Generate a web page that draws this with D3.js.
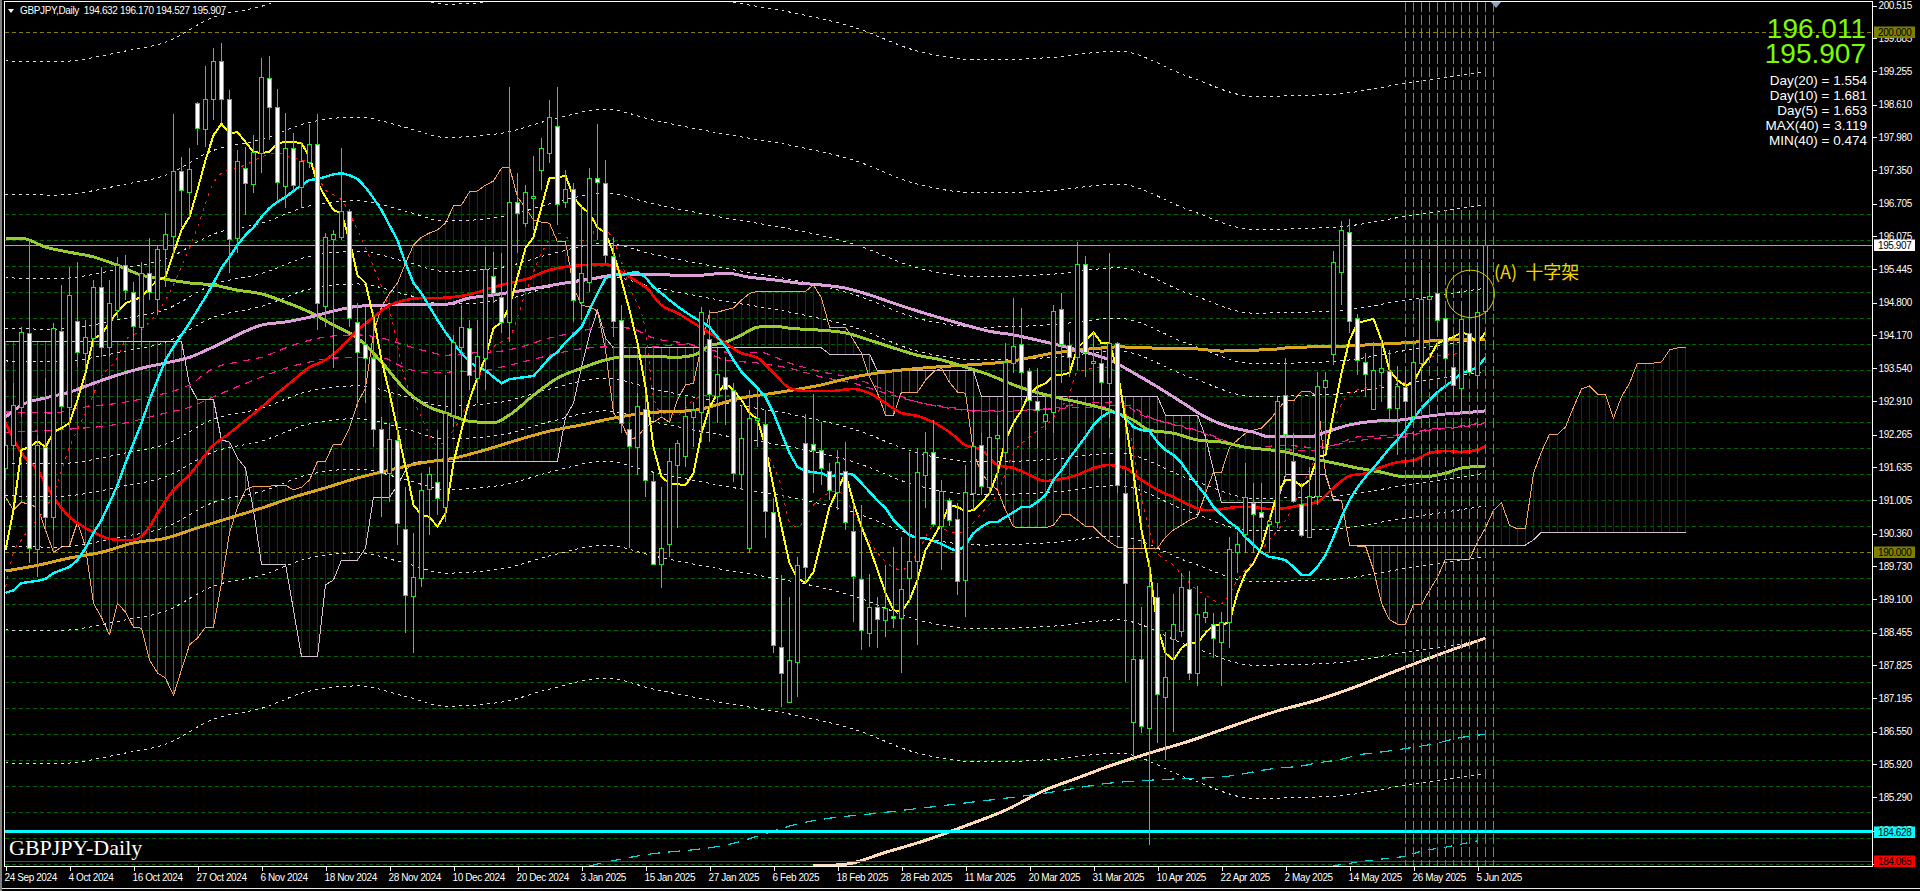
<!DOCTYPE html>
<html><head><meta charset="utf-8">
<script src="https://cdn.jsdelivr.net/npm/d3@7/dist/d3.min.js"></script>
<style>
html,body{margin:0;padding:0;background:#000;overflow:hidden}
svg{display:block}
text{font-family:"Liberation Sans",Arial,sans-serif}
</style></head><body>
<svg id="c" width="1920" height="891"></svg>
<script>
// ---- candles -------------------------------------------------------------
const opens=[191.62,192.06,192.79,194.22,190.06,192.02,190.68,194.25,192.79,194.45,193.83,194.12,195.10,193.95,194.66,195.52,195.00,194.33,195.37,194.87,195.83,196.08,197.33,196.93,198.64,198.14,198.72,199.45,198.72,196.04,197.39,197.08,197.68,199.12,198.56,197.04,197.77,197.02,197.50,197.85,194.73,196.02,196.06,196.56,194.43,194.00,193.74,192.37,191.52,192.16,190.45,189.16,189.50,191.22,191.35,190.87,192.64,193.95,194.31,193.35,193.74,195.31,194.91,194.43,196.74,196.33,196.81,197.35,197.68,198.20,196.74,196.99,194.81,195.20,197.20,197.10,195.70,194.47,192.37,192.02,192.75,191.37,189.77,190.16,191.68,191.85,192.60,192.70,194.10,193.00,193.37,193.12,191.50,190.08,192.54,192.47,190.77,188.18,187.12,187.89,192.10,192.08,191.97,191.56,191.16,191.56,190.41,189.49,188.45,188.95,188.70,188.77,188.74,189.50,189.83,191.49,191.93,190.50,191.00,190.64,189.47,191.14,192.06,191.25,192.20,191.93,193.64,194.00,193.49,192.91,192.52,192.70,194.68,193.98,193.75,195.54,193.64,193.64,193.25,194.02,191.14,186.74,187.95,186.62,189.14,187.22,188.33,188.49,189.29,187.68,188.75,188.62,188.27,188.66,190.00,190.35,190.95,190.77,190.54,190.58,193.02,191.75,190.93,190.29,191.08,193.18,193.81,195.39,196.16,194.50,193.66,192.75,193.47,193.49,192.77,193.18,192.62,193.64,194.87,194.98,194.50,193.56,193.16,194.22,193.41,194.632];
const highs=[193.31,193.25,194.33,196.00,192.25,193.35,194.41,195.14,195.49,195.58,194.47,195.24,195.49,195.24,195.68,195.72,195.20,195.58,196.04,195.91,196.52,198.43,197.60,197.77,198.66,199.35,199.70,199.79,198.89,197.74,197.79,198.02,199.50,199.54,198.91,198.45,198.06,197.89,198.24,198.43,196.14,196.20,197.77,196.60,194.79,194.72,194.62,192.60,192.49,192.49,191.25,190.37,191.52,191.64,192.35,193.41,194.18,194.75,194.47,194.47,195.87,195.77,195.75,198.95,197.29,197.06,197.62,197.97,198.70,198.95,197.35,197.10,196.64,197.39,198.24,197.54,196.06,194.75,192.49,193.06,193.06,191.52,191.25,192.00,192.16,192.99,192.89,194.72,194.66,193.93,193.75,193.25,192.83,193.12,193.12,192.73,191.04,189.56,189.14,189.91,192.66,193.04,192.50,191.72,191.97,192.12,190.93,190.91,189.58,189.14,189.75,190.10,190.29,191.93,192.00,192.31,192.54,191.39,191.04,190.95,191.68,192.99,192.29,192.54,192.64,194.02,194.89,194.70,193.54,193.54,193.02,194.75,194.98,194.23,195.97,195.70,194.23,193.95,195.75,194.04,191.58,190.14,188.95,189.85,189.41,188.47,189.20,189.60,189.64,189.35,189.12,188.83,188.85,190.29,190.39,191.72,191.33,191.33,190.72,192.99,193.74,192.29,191.33,191.64,193.47,193.47,195.79,196.37,196.41,194.58,193.83,194.04,194.14,193.89,193.58,193.50,193.95,195.62,195.37,196.31,194.66,193.89,194.79,195.24,195.47,196.170];
const lows=[191.39,191.77,192.60,189.79,189.52,190.39,190.43,192.45,192.41,193.56,193.50,193.95,193.75,193.75,194.50,194.85,193.89,193.95,194.85,194.56,195.10,195.68,196.25,196.45,197.83,197.79,198.31,198.25,195.37,195.75,196.49,196.91,197.29,197.93,196.74,196.62,196.91,196.62,197.39,194.27,194.33,193.54,196.00,194.33,192.79,192.87,192.02,190.68,190.97,190.14,188.45,188.06,189.33,190.33,190.72,190.58,192.41,192.60,193.12,192.87,193.12,194.79,194.22,194.04,195.75,196.25,196.20,196.97,197.49,196.29,196.62,194.43,194.47,195.00,196.00,195.56,194.14,192.29,190.08,191.49,191.06,189.75,189.31,189.91,190.47,191.64,192.02,192.12,192.12,192.49,192.45,191.35,191.20,189.99,192.02,190.27,188.06,187.02,187.10,187.22,189.41,191.14,191.29,191.00,190.81,190.43,188.66,188.12,188.18,188.16,188.37,188.54,187.68,189.02,188.22,190.85,190.48,189.66,190.50,189.18,188.75,190.81,191.10,191.10,191.39,191.77,193.45,192.93,192.02,192.00,192.35,192.29,193.25,193.37,193.50,193.37,192.93,192.54,192.20,191.14,187.50,186.04,186.52,184.37,186.33,186.00,186.54,188.37,187.54,187.43,188.64,187.97,187.43,188.16,189.60,189.99,189.99,190.20,189.99,190.47,191.47,190.95,190.29,190.27,190.91,191.93,193.60,194.75,194.22,193.41,192.99,192.73,192.89,192.54,191.87,192.02,192.49,193.02,193.98,194.23,193.35,192.97,192.70,193.45,193.22,194.527];
const closes=[192.06,192.83,194.23,190.08,192.06,190.68,194.31,192.81,194.95,193.85,194.14,195.10,193.95,194.79,195.52,195.04,194.35,195.37,195.00,195.83,196.12,197.33,196.97,197.37,198.16,198.72,199.45,198.72,196.02,197.52,197.10,197.70,199.14,198.56,197.12,197.77,197.06,197.52,197.85,194.79,196.06,196.12,196.56,194.50,193.85,193.74,192.37,191.52,192.18,190.56,189.18,189.52,191.20,191.50,191.04,192.68,194.04,194.33,193.41,193.77,195.45,194.98,194.43,196.74,196.52,196.93,196.85,197.77,198.37,196.70,196.99,194.85,195.37,197.20,197.12,195.72,194.45,192.49,192.04,192.81,191.39,189.77,190.08,191.75,192.10,192.62,192.73,194.62,193.04,193.43,193.14,191.52,192.20,192.58,192.58,190.79,188.22,187.68,187.93,189.75,189.72,191.97,191.62,191.20,191.73,190.58,189.54,188.50,188.95,188.72,188.93,188.74,189.29,189.83,191.54,191.93,190.54,191.18,190.62,189.45,191.16,192.04,191.27,192.22,192.25,193.66,193.97,193.47,192.93,192.73,192.66,194.64,194.00,193.74,195.54,193.85,193.68,193.27,194.02,191.29,189.41,187.95,186.66,189.35,187.27,187.60,188.62,189.33,187.68,188.81,188.85,188.35,188.66,190.06,190.16,191.06,190.74,190.68,190.60,192.91,192.27,190.99,190.33,191.08,193.20,193.31,195.58,196.20,194.45,193.70,193.43,193.50,193.54,192.77,193.20,192.91,193.66,194.87,194.93,194.47,193.74,193.22,194.48,193.47,194.62,195.907];

// ---- indicators, one value per bar ---------------------------------------
const yellowFast=[190.04,190.81,191.97,192.02,192.14,192.02,192.31,192.39,192.49,192.93,193.45,194.12,194.18,194.43,194.62,194.79,194.85,194.91,195.08,195.24,195.29,195.75,196.20,196.45,196.97,197.54,198.02,198.24,198.06,198.08,197.89,197.70,197.68,197.70,197.87,197.89,197.89,197.87,197.60,197.10,196.83,196.58,196.52,196.00,195.33,195.18,194.52,193.70,193.06,192.35,191.64,190.91,190.72,190.68,190.49,190.75,191.72,192.35,192.93,193.37,193.75,194.31,194.43,194.72,195.29,195.85,196.06,196.64,197.20,197.20,197.25,196.83,196.64,196.52,196.25,196.14,195.75,195.24,194.66,194.02,193.18,192.02,191.45,191.33,191.31,191.29,191.52,192.29,192.79,193.06,193.25,193.12,192.93,192.68,192.56,192.02,191.25,190.49,189.79,189.50,189.41,189.62,190.24,190.87,191.20,191.52,190.95,190.49,190.10,189.66,189.22,188.89,188.85,189.08,189.47,190.04,190.29,190.56,190.91,190.87,190.79,190.81,190.95,191.14,191.52,192.16,192.49,192.73,193.06,193.18,193.25,193.41,193.41,193.45,193.93,194.08,194.23,194.02,194.02,193.50,192.54,191.52,190.43,189.72,188.56,188.06,187.93,188.16,188.27,188.25,188.45,188.60,188.60,188.66,189.22,189.60,189.79,190.10,190.62,191.14,191.39,191.39,191.27,191.39,191.83,191.87,192.68,193.45,194.08,194.41,194.45,194.49,194.08,193.50,193.31,193.20,193.27,193.56,193.75,194.02,194.08,194.14,194.23,194.18,194.02,194.23];
const cyanMid=[189.22,189.27,189.41,189.43,189.45,189.49,189.60,189.66,189.72,189.85,190.08,190.37,190.62,190.95,191.29,191.72,192.10,192.49,192.93,193.31,193.70,193.95,194.18,194.41,194.66,194.91,195.18,195.47,195.68,195.91,196.10,196.25,196.45,196.62,196.74,196.83,196.95,197.06,197.16,197.18,197.22,197.27,197.29,197.25,197.18,197.02,196.81,196.58,196.29,196.00,195.56,195.18,194.98,194.72,194.47,194.23,194.02,193.83,193.66,193.56,193.50,193.37,193.25,193.33,193.35,193.37,193.39,193.56,193.74,193.85,194.04,194.18,194.33,194.66,194.98,195.27,195.33,195.33,195.37,195.39,195.29,195.10,194.98,194.85,194.73,194.62,194.52,194.43,194.33,194.14,193.95,193.70,193.47,193.31,193.16,192.99,192.68,192.29,191.91,191.64,191.56,191.54,191.52,191.45,191.49,191.52,191.49,191.33,191.16,191.00,190.85,190.62,190.47,190.33,190.27,190.27,190.22,190.16,190.08,190.02,190.14,190.37,190.49,190.58,190.58,190.68,190.77,190.87,190.87,190.97,191.10,191.39,191.58,191.81,192.02,192.22,192.45,192.60,192.70,192.68,192.58,192.41,192.35,192.33,192.12,191.97,191.87,191.72,191.49,191.29,191.10,190.87,190.72,190.58,190.47,190.29,190.14,190.00,189.91,189.89,189.85,189.72,189.56,189.56,189.72,189.95,190.29,190.68,191.00,191.25,191.45,191.62,191.81,192.00,192.16,192.35,192.58,192.77,192.93,193.08,193.20,193.31,193.45,193.49,193.56,193.75];
const spanA=[191.06,190.81,190.97,190.91,190.87,190.43,190.00,190.10,190.12,190.58,190.10,189.02,188.75,188.41,189.02,188.85,188.56,188.54,187.93,187.68,187.58,187.25,187.74,188.22,188.35,188.56,188.56,189.41,190.37,190.87,191.20,191.27,191.27,191.27,191.29,191.29,191.20,191.25,191.39,191.75,191.75,192.08,192.08,192.39,192.87,193.16,194.22,194.72,194.98,195.18,195.56,195.91,196.06,196.14,196.20,196.33,196.66,196.68,196.93,196.95,197.06,197.14,197.39,197.41,196.83,196.62,196.39,196.35,196.33,195.97,195.97,195.10,194.75,194.72,194.64,193.89,192.68,192.49,192.16,192.22,192.41,192.50,192.60,192.50,192.93,193.22,193.25,193.98,194.60,194.62,194.66,194.70,194.85,194.98,195.02,195.02,195.02,195.02,195.02,195.02,195.02,195.14,194.89,194.33,194.33,194.33,194.08,193.83,193.37,193.06,192.64,192.64,193.08,193.08,193.08,193.31,193.47,193.54,193.27,193.08,193.06,191.91,191.52,191.33,191.20,190.81,190.49,190.47,190.47,190.47,190.47,190.52,190.73,190.73,190.62,190.50,190.49,190.33,190.20,190.10,190.08,190.08,190.08,190.08,190.08,190.29,190.43,190.52,190.62,190.68,191.14,191.54,191.54,192.02,192.16,192.29,192.35,192.39,192.54,192.73,192.93,192.91,193.10,193.10,192.99,191.52,191.02,191.00,190.14,190.12,190.12,189.66,189.02,188.70,188.62,188.62,189.00,189.00,189.27,189.52,189.87,189.87,189.87,189.87,190.20,190.47,190.81,190.95,190.52,190.45,190.45,191.52,191.93,192.27,192.27,192.41,192.79,193.14,193.20,193.04,193.04,192.58,192.99,193.25,193.64,193.64,193.64,193.66,193.89,193.93,193.93];
const spanB=[194.06,194.06,194.06,194.06,194.06,194.06,194.06,194.06,194.06,194.06,194.06,194.06,194.06,194.06,194.06,194.06,194.06,194.06,194.06,194.06,194.06,194.06,194.06,193.22,192.93,192.93,192.93,192.16,192.12,191.81,191.62,190.81,189.77,189.77,189.77,189.77,188.89,188.00,188.00,188.00,189.37,189.47,189.85,189.85,189.85,190.08,191.06,191.06,191.06,191.29,191.58,191.72,191.75,191.75,191.75,191.75,191.75,191.75,191.75,191.75,191.75,191.75,191.75,191.75,191.75,191.75,191.75,191.75,191.75,191.75,192.60,192.87,193.56,194.18,194.66,194.12,193.93,193.93,193.93,193.93,193.93,193.93,193.93,193.93,193.93,193.93,193.93,193.93,193.93,193.93,193.93,193.93,193.93,193.93,193.93,193.93,193.93,193.93,193.93,193.93,193.93,193.93,193.93,193.81,193.81,193.81,193.81,193.81,193.81,193.49,193.49,193.49,193.49,193.49,193.49,193.49,193.49,193.49,193.49,193.49,193.49,193.49,192.99,192.99,192.99,192.99,192.99,192.99,192.99,192.99,192.99,192.99,192.99,192.99,192.99,192.99,192.99,192.99,192.99,192.99,192.99,192.99,192.99,192.99,192.99,192.64,192.64,192.64,192.64,192.64,192.22,191.58,190.95,190.95,190.95,190.95,190.95,190.95,190.95,190.95,191.49,191.49,191.49,191.49,191.49,191.49,191.00,191.00,190.14,190.14,190.14,190.14,190.14,190.14,190.14,190.14,190.14,190.14,190.14,190.14,190.14,190.14,190.14,190.14,190.14,190.14,190.14,190.14,190.14,190.14,190.14,190.24,190.39,190.39,190.39,190.39,190.39,190.39,190.39,190.39,190.39,190.39,190.39,190.39,190.39,190.39,190.39,190.39,190.39,190.39,190.39];

// ---- indicators read at selected bars ------------------------------------
const redBars=[0,2,4,6,8,10,12,14,16,18,19,21,23,26,28,30,32,34,36,38,40,42,44,46,48,50,52,54,57,59,61,63,65,68,70,72,75,77,79,80,82,84,86,88,90,92,94,96,98,100,103,106,108,110,112,114,116,118,120,122,124,126,128,130,132,134,136,138,140,142,144,146,148,150,152,154,156,158,160,162,164,166,168,170,172,174,176,178,180,182,184,185];
const redMA=[192.49,191.91,191.58,191.06,190.68,190.47,190.31,190.24,190.24,190.49,190.75,191.20,191.49,192.06,192.29,192.54,192.79,193.06,193.31,193.56,193.70,193.95,194.27,194.52,194.75,194.85,194.89,194.89,194.93,195.00,195.10,195.18,195.25,195.43,195.49,195.52,195.54,195.39,195.20,195.10,194.75,194.60,194.41,194.22,194.02,193.83,193.74,193.45,193.16,193.10,193.10,193.14,193.06,192.87,192.68,192.62,192.50,192.31,192.06,191.97,191.68,191.62,191.49,191.37,191.41,191.49,191.62,191.68,191.62,191.39,191.20,191.06,190.91,190.81,190.83,190.87,190.87,190.83,190.85,190.91,190.97,191.24,191.47,191.52,191.64,191.73,191.77,191.91,191.95,191.93,191.97,192.04];
const plumBars=[0,2,5,8,11,14,17,20,23,26,29,32,35,38,41,44,47,51,55,58,61,64,67,70,73,76,79,84,87,90,93,96,99,102,105,108,111,114,117,120,123,126,129,132,135,138,141,144,147,150,153,156,158,160,163,165,168,171,174,177,180,182,185];
const plumMA=[192.60,192.83,192.97,193.08,193.25,193.41,193.54,193.64,193.75,193.95,194.18,194.37,194.43,194.52,194.64,194.73,194.75,194.77,194.77,194.89,194.95,195.02,195.10,195.18,195.25,195.33,195.35,195.33,195.33,195.37,195.29,195.24,195.18,195.14,195.08,194.95,194.79,194.64,194.50,194.37,194.25,194.18,194.08,193.97,193.85,193.70,193.45,193.18,192.89,192.60,192.41,192.31,192.22,192.22,192.22,192.31,192.45,192.52,192.54,192.60,192.66,192.68,192.72];
const oliveBars=[0,2,5,8,11,14,17,20,23,26,29,32,35,38,41,44,47,50,53,55,58,61,63,66,69,72,75,78,80,84,86,88,90,92,94,96,98,102,105,108,111,114,117,120,123,126,131,134,138,141,143,146,149,152,155,158,160,163,166,169,172,175,177,180,182,185];
const oliveMA=[196.04,196.04,195.87,195.77,195.68,195.52,195.33,195.25,195.18,195.14,195.04,194.97,194.81,194.62,194.37,194.12,193.66,193.12,192.79,192.68,192.52,192.49,192.64,193.02,193.35,193.54,193.70,193.77,193.77,193.75,193.79,193.97,194.04,194.18,194.33,194.35,194.31,194.27,194.22,194.08,193.93,193.79,193.70,193.56,193.41,193.22,192.99,192.89,192.73,192.54,192.35,192.29,192.16,192.12,192.02,191.97,191.93,191.81,191.72,191.62,191.54,191.45,191.45,191.52,191.62,191.66];
const orangeBars=[0,4,8,12,16,20,24,28,32,36,40,44,48,52,56,60,64,68,72,76,80,86,92,96,102,106,110,116,122,125,131,137,139,143,149,152,159,160,168,174,180,185];
const orangeMA=[189.64,189.75,189.89,190.00,190.18,190.27,190.47,190.66,190.85,191.06,191.24,191.43,191.58,191.72,191.81,191.97,192.16,192.33,192.45,192.58,192.68,192.73,192.97,193.06,193.22,193.37,193.47,193.56,193.62,193.66,193.83,193.93,193.95,193.93,193.91,193.87,193.91,193.93,193.97,194.02,194.08,194.10];
const redDotBars=[0,1,2,6,8,10,12,14,15,17,18,20,22,24,26,27,30,32,34,36,38,40,42,44,46,48,50,52,54,56,58,61,63,65,67,69,71,73,74,76,78,80,81,82,84,86,88,90,92,94,95,97,98,99,101,104,106,109,112,114,116,119,122,124,126,128,131,133,134,138,140,142,144,146,147,149,150,152,154,156,158,160,163,166,168,170,173,176,178,180,182];
const redDot=[189.33,189.99,190.24,191.14,192.02,192.68,193.37,193.75,194.08,194.27,194.43,194.85,195.49,196.25,197.10,197.29,197.45,197.60,197.68,197.58,197.49,196.97,196.77,196.20,195.49,194.66,193.31,192.60,192.06,192.35,192.93,193.95,194.14,194.98,195.75,196.14,196.00,196.00,196.29,196.00,195.10,194.27,192.99,192.68,192.64,192.93,193.02,193.02,192.83,192.60,192.02,191.25,190.58,190.49,190.91,191.18,190.75,189.99,189.66,189.99,190.49,190.37,190.75,191.14,191.91,192.22,192.60,193.06,193.47,193.56,192.73,191.06,189.99,189.75,189.58,189.27,189.18,189.02,189.47,189.85,190.24,190.62,191.58,192.54,193.06,193.16,193.22,193.31,193.75,193.79,193.83];
const pinkABars=[0,6,9,15,20,23,26,29,32,35,38,41,44,47,50,53,55,58,62,64,68,71,75,78,81,85,90,94,98,102,106,110,114,118,122,126,131,135,139,142,144,148,152,156,160,163,166,169,172,175,178,181,185];
const pinkA=[192.70,192.68,192.77,192.89,193.06,193.22,193.54,193.66,193.75,193.93,194.08,194.16,194.18,194.12,193.98,193.85,193.79,193.83,193.87,193.93,194.12,194.22,194.33,194.31,194.12,194.02,193.85,193.85,193.64,193.47,193.35,193.12,192.89,192.79,192.72,192.73,192.77,192.87,192.89,192.64,192.54,192.39,192.16,192.02,192.06,192.02,192.06,192.22,192.24,192.27,192.37,192.41,192.50];
const pinkBBars=[0,6,15,20,23,26,32,35,38,42,47,50,53,56,60,63,67,71,75,79,85,90,94,98,102,106,110,114,120,124,128,132,136,140,143,147,150,154,158,160,163,166,168,172,175,178,181,185];
const pinkB=[192.31,192.35,192.49,192.68,192.79,192.99,193.37,193.54,193.66,193.74,193.74,193.54,193.45,193.47,193.50,193.60,193.75,193.89,193.95,193.93,194.00,193.70,193.64,193.54,193.37,193.25,193.06,192.89,192.73,192.70,192.73,192.77,192.79,192.83,192.60,192.41,192.29,192.06,191.97,191.97,191.95,192.06,192.12,192.20,192.22,192.35,192.39,192.48];
const slowBars=[101,105,110,115,120,125,130,134,138,143,148,153,159,164,168,175,180,185];
const slowMA=[183.97,184.00,184.23,184.46,184.74,185.04,185.43,185.66,185.89,186.14,186.37,186.64,186.95,187.16,187.37,187.79,188.08,188.35];
const tealBars=[73,79,90,100,110,120,130,138,146,152,159,162,164,167,169,172,176,179,181,185];
const tealDash=[183.97,184.16,184.37,184.81,185.00,185.18,185.37,185.56,185.64,185.68,185.85,185.89,185.95,186.02,186.10,186.16,186.25,186.33,186.41,186.50];
const tealLowBars=[166,168,172,175,177,180,182,184];
const tealLow=[183.97,184.02,184.10,184.16,184.25,184.33,184.39,184.45];

// dotted envelope curves, all read at these bars
const bandBars=[0,6,15,20,26,32,38,44,50,55,62,68,75,81,90,98,106,114,122,131,139,148,156,166,175,185];
const bandUp1=[193.68,193.66,193.87,194.04,194.52,194.73,195.06,195.16,194.96,194.77,194.85,195.10,195.31,195.10,194.83,194.62,194.33,193.87,193.70,193.75,193.87,193.37,193.00,193.04,193.25,193.48];
const bandDn1=[191.72,191.70,191.91,192.08,192.56,192.77,193.10,193.20,193.00,192.81,192.89,193.14,193.35,193.14,192.87,192.66,192.37,191.91,191.74,191.79,191.91,191.41,191.04,191.08,191.29,191.52];
const bandUp2=[194.31,194.29,194.50,194.67,195.15,195.36,195.69,195.79,195.59,195.40,195.48,195.73,195.94,195.73,195.46,195.25,194.96,194.50,194.33,194.38,194.50,194.00,193.63,193.67,193.88,194.11];
const bandDn2=[191.09,191.07,191.28,191.45,191.93,192.14,192.47,192.57,192.37,192.18,192.26,192.51,192.72,192.51,192.24,192.03,191.74,191.28,191.11,191.16,191.28,190.78,190.41,190.45,190.66,190.89];
const bandUp3=[195.28,195.26,195.47,195.64,196.12,196.33,196.66,196.76,196.56,196.37,196.45,196.70,196.91,196.70,196.43,196.22,195.93,195.47,195.30,195.35,195.47,194.97,194.60,194.64,194.85,195.08];
const bandDn3=[190.12,190.10,190.31,190.48,190.96,191.17,191.50,191.60,191.40,191.21,191.29,191.54,191.75,191.54,191.27,191.06,190.77,190.31,190.14,190.19,190.31,189.81,189.44,189.48,189.69,189.92];
const bandUp4=[196.89,196.87,197.08,197.25,197.73,197.94,198.27,198.37,198.17,197.98,198.06,198.31,198.52,198.31,198.04,197.83,197.54,197.08,196.91,196.96,197.08,196.58,196.21,196.25,196.46,196.69];
const bandDn4=[188.51,188.49,188.70,188.87,189.35,189.56,189.89,189.99,189.79,189.60,189.68,189.93,190.14,189.93,189.66,189.45,189.16,188.70,188.53,188.58,188.70,188.20,187.83,187.87,188.08,188.31];
const bandUp5=[199.45,199.43,199.64,199.81,200.29,200.50,200.83,200.93,200.73,200.54,200.62,200.87,201.08,200.87,200.60,200.39,200.10,199.64,199.47,199.52,199.64,199.14,198.77,198.81,199.02,199.25];
const bandDn5=[185.95,185.93,186.14,186.31,186.79,187.00,187.33,187.43,187.23,187.04,187.12,187.37,187.58,187.37,187.10,186.89,186.60,186.14,185.97,186.02,186.14,185.64,185.27,185.31,185.52,185.75];

// ---- axes and annotations ------------------------------------------------
const priceTicks=[200.515,199.885,199.255,198.610,197.980,197.350,196.705,196.075,195.445,194.800,194.170,193.540,192.910,192.265,191.635,191.005,190.360,189.730,189.100,188.455,187.825,187.195,186.550,185.920,185.290,184.645,184.015];
const gridLevels=[184,184.5,185,185.5,186,186.5,187,187.5,188,188.5,189,189.5,190.5,191,191.5,192,192.5,193,193.5,194,194.5,195,195.5,196,196.5];
const dateBars=[0,8,16,24,32,40,48,56,64,72,80,88,96,104,112,120,128,136,144,152,160,168,176,184];
const dateLabels=["24 Sep 2024","4 Oct 2024","16 Oct 2024","27 Oct 2024","6 Nov 2024","18 Nov 2024","28 Nov 2024","10 Dec 2024","20 Dec 2024","3 Jan 2025","15 Jan 2025","27 Jan 2025","6 Feb 2025","18 Feb 2025","28 Feb 2025","11 Mar 2025","20 Mar 2025","31 Mar 2025","10 Apr 2025","22 Apr 2025","2 May 2025","14 May 2025","26 May 2025","5 Jun 2025"];
const futureGuideBars=[175,176,177,178,179,180,181,182,183,184,185,186];
const lastPrice=195.907, cyanLevel=184.628, redLevel=184.065, roundLevels=[200,190];
const infoLines=["Day(20) = 1.554","Day(10) = 1.681","Day(5) = 1.653","MAX(40) = 3.119","MIN(40) = 0.474"];
const bigPrices=["196.011","195.907"];

// ---- drawing -------------------------------------------------------------
const svg=d3.select("#c");
const L=4.5,R=1872.5,T=1.5,B=866.5;
const x=d3.scaleLinear().domain([0,1]).range([5.5,13.5]);
const y=d3.scaleLinear().domain([190,200]).range([552.3,32.3]);
svg.append("defs").append("clipPath").attr("id","pl").append("rect").attr("x",L).attr("y",T).attr("width",R-L).attr("height",B-T);
const g=svg.append("g").attr("clip-path","url(#pl)").style("shape-rendering","crispEdges");

g.append("g").selectAll("line").data(gridLevels).join("line")
 .attr("x1",L).attr("x2",R).attr("y1",d=>Math.round(y(d))+.5).attr("y2",d=>Math.round(y(d))+.5)
 .attr("stroke","#006400").attr("stroke-dasharray","4,3");
g.append("g").selectAll("line").data(roundLevels).join("line")
 .attr("x1",L).attr("x2",R).attr("y1",d=>Math.round(y(d))+.5).attr("y2",d=>Math.round(y(d))+.5)
 .attr("stroke","#808000").attr("stroke-dasharray","4,3");

// cloud hatching
g.append("g").selectAll("line").data(d3.range(spanA.length)).join("line")
 .attr("x1",d=>x(d)).attr("x2",d=>x(d)).attr("y1",d=>y(spanA[d])).attr("y2",d=>y(spanB[d]))
 .attr("stroke",d=>spanA[d]>=spanB[d]?"#1a1a78":"#93402c");

const path=(bars,vals,stroke,w,dash,curve)=>g.append("path")
 .attr("d",d3.line().x((d,k)=>x(bars[k])).y(d=>y(d)).curve(curve||d3.curveLinear)(vals))
 .attr("fill","none").attr("stroke",stroke).attr("stroke-width",w)
 .attr("stroke-dasharray",dash||null).attr("stroke-linejoin","round");
const all=d3.range(186), allSpan=d3.range(spanA.length), smooth=d3.curveMonotoneX;

path(allSpan,spanB,"#d8bfd8",1);
path(allSpan,spanA,"#f4a460",1);

[bandUp5,bandUp4,bandUp3,bandUp2,bandUp1,bandDn1,bandDn2,bandDn3,bandDn4,bandDn5]
 .forEach(b=>path(bandBars,b,"#dcdcdc",1,"3,4",smooth));

path(slowBars,slowMA,"#ffdab9",3,null,smooth);
path(tealBars,tealDash,"#00dcdc",1.2,"12,8",smooth);
path(tealLowBars,tealLow,"#00dcdc",1.2,"8,8",smooth);

g.append("line").attr("x1",L).attr("x2",R).attr("y1",Math.round(y(lastPrice))+.5).attr("y2",Math.round(y(lastPrice))+.5).attr("stroke","#a6a6ae");
g.append("line").attr("x1",L).attr("x2",R).attr("y1",y(cyanLevel)).attr("y2",y(cyanLevel)).attr("stroke","#00ffff").attr("stroke-width",2.4);
g.append("line").attr("x1",L).attr("x2",R).attr("y1",Math.round(y(redLevel))+.5).attr("y2",Math.round(y(redLevel))+.5).attr("stroke","#ff0000");

path(redDotBars,redDot,"#ff1a1a",1,"3,5",smooth);
path(pinkABars,pinkA,"#ff1493",1.2,"7,6",smooth);
path(pinkBBars,pinkB,"#ff1493",1.2,"7,6",smooth);
path(orangeBars,orangeMA,"#daa520",3,null,smooth);
path(oliveBars,oliveMA,"#9acd32",3,null,smooth);
path(plumBars,plumMA,"#dda0dd",3,null,smooth);
path(redBars,redMA,"#ff0000",2.6,null,smooth);
path(all,cyanMid,"#00ffff",2.4);
path(all,yellowFast,"#ffff00",2);

// future guide lines
g.append("g").selectAll("line").data(futureGuideBars).join("line")
 .attr("x1",d=>x(d)).attr("x2",d=>x(d)).attr("y1",T).attr("y2",B)
 .attr("stroke","#7d7d7d").attr("stroke-dasharray","10,3");

// candles
const lime="#14ee14";
const cg=g.append("g");
cg.selectAll("line").data(all).join("line")
 .attr("x1",d=>x(d)).attr("x2",d=>x(d)).attr("y1",d=>y(highs[d])).attr("y2",d=>y(lows[d])).attr("stroke",lime);
cg.selectAll("rect").data(all).join("rect")
 .attr("x",d=>x(d)-2).attr("width",4)
 .attr("y",d=>Math.round(y(Math.max(opens[d],closes[d])))+.5)
 .attr("height",d=>Math.max(1,Math.round(Math.abs(y(opens[d])-y(closes[d])))))
 .attr("fill",d=>closes[d]>=opens[d]?"#000":"#fff").attr("stroke",lime);

// circle annotation and its label
svg.append("ellipse").attr("cx",x(183)+.9).attr("cy",y(194.97)).attr("rx",24).attr("ry",23.7)
 .attr("fill","none").attr("stroke","#d4d400").attr("stroke-width",1);
svg.append("text").attr("x",1494).attr("y",278.5).attr("fill","#f2d500").attr("font-size",18)
 .style("font-family",'"Noto Sans CJK JP","Liberation Sans",sans-serif').attr("xml:space","preserve").text("(A)  十字架");

// frame
svg.append("rect").attr("x",L).attr("y",T).attr("width",R-L).attr("height",B-T).attr("fill","none").attr("stroke","#fff").style("shape-rendering","crispEdges");
svg.append("rect").attr("x",0).attr("y",888).attr("width",1920).attr("height",1).attr("fill","#e8e8e8");
svg.append("rect").attr("x",0).attr("y",0).attr("width",2).attr("height",891).attr("fill","#808080");
svg.append("path").attr("d","M1491,2L1501,2L1496,8Z").attr("fill","#8fa3bd");

// axes
const ya=d3.axisRight(y).tickValues(priceTicks).tickSize(4).tickPadding(2).tickFormat(d3.format(".3f"));
const yg=svg.append("g").attr("transform",`translate(${R},0)`).call(ya);
const xa=d3.axisBottom(x).tickValues(dateBars).tickSize(4).tickPadding(3).tickFormat((d,k)=>dateLabels[k]);
const xg=svg.append("g").attr("transform",`translate(0,${B})`).call(xa);
[yg,xg].forEach(a=>{a.select(".domain").remove();a.selectAll("line").attr("stroke","#fff").style("shape-rendering","crispEdges");
 a.selectAll("text").attr("fill","#fff").attr("font-size",10).style("letter-spacing","-0.4px").style("font-family",'"Liberation Sans",Arial,sans-serif');});
xg.selectAll("text").attr("text-anchor","start").attr("dx",-1.5);

// price tags
const tags=[[200,"#808000"],[190,"#808000"],[lastPrice,"#fff"],[cyanLevel,"#00ffff"],[redLevel,"#ff0000"]];
const tg=svg.append("g").selectAll("g").data(tags).join("g").attr("transform",d=>`translate(1874,${Math.round(y(d[0]))})`);
tg.append("rect").attr("x",0).attr("y",-5.5).attr("width",41).attr("height",11.5).attr("fill",d=>d[1]);
tg.append("text").attr("x",4).attr("y",4).attr("font-size",10).style("letter-spacing","-0.4px").attr("fill","#000").text(d=>d3.format(".3f")(d[0]));

// header texts
svg.append("path").attr("d","M8,9L14,9L11,13Z").attr("fill","#fff");
svg.append("text").attr("x",20).attr("y",14).attr("fill","#fff").attr("font-size",10).style("letter-spacing","-0.35px").attr("xml:space","preserve")
 .text("GBPJPY,Daily  194.632 196.170 194.527 195.907");
svg.append("g").selectAll("text").data(bigPrices).join("text").attr("x",1866).attr("y",(d,k)=>38+k*25)
 .attr("text-anchor","end").attr("fill","#7cfc00").attr("font-size",28).text(d=>d);
svg.append("g").selectAll("text").data(infoLines).join("text").attr("x",1867).attr("y",(d,k)=>85+k*15)
 .attr("text-anchor","end").attr("fill","#fff").attr("font-size",13.5).text(d=>d);
svg.append("text").attr("x",9).attr("y",855).attr("fill","#fff").attr("font-size",22).style("font-family",'"Liberation Serif",serif').text("GBPJPY-Daily");
</script>
</body></html>
